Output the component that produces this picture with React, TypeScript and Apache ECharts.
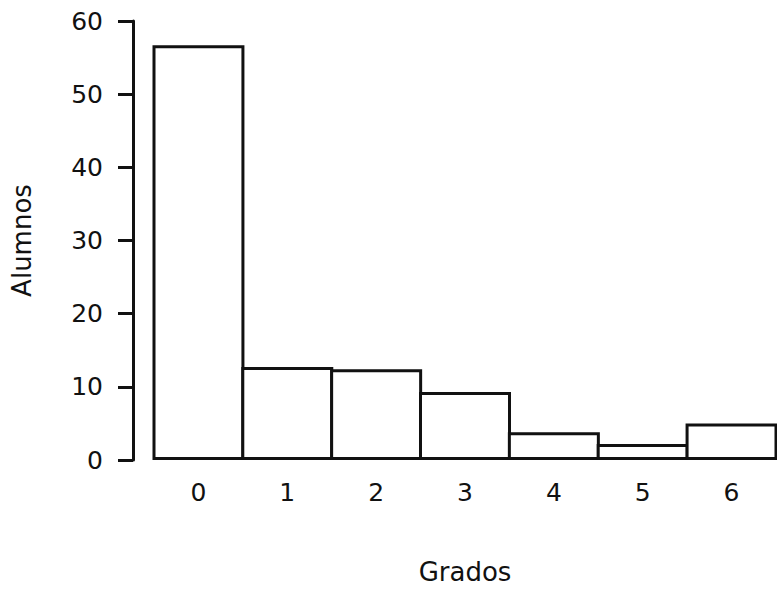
import React, { useEffect, useRef } from "react";
import * as echarts from "echarts";

const categories = ["0", "1", "2", "3", "4", "5", "6"];
const alumnos = [56.7, 12.7, 12.4, 9.3, 3.8, 2.2, 5.0];
const yTicks = { min: 0, max: 60, interval: 10 };

const FONT = "DejaVu Sans";

export default function App() {
  const ref = useRef<HTMLDivElement>(null);
  useEffect(() => {
    if (!ref.current) return;
    const chart = echarts.init(ref.current, undefined, { renderer: "svg" });
    chart.setOption({
      animation: false,
      backgroundColor: "#ffffff",
      grid: { left: 154, right: 1, top: 21, bottom: 124 },
      xAxis: {
        type: "category",
        data: categories,
        boundaryGap: true,
        name: "Grados",
        nameLocation: "middle",
        nameGap: 99,
        nameTextStyle: { fontFamily: FONT, fontSize: 26, color: "#111" },
        axisLine: { show: false },
        axisTick: { show: false },
        axisLabel: { fontFamily: FONT, fontSize: 25, color: "#111", margin: 20 },
        splitLine: { show: false },
      },
      yAxis: {
        type: "value",
        min: yTicks.min,
        max: yTicks.max,
        interval: yTicks.interval,
        offset: 21,
        name: "Alumnos",
        nameLocation: "middle",
        nameRotate: 90,
        nameGap: 98,
        nameTextStyle: { fontFamily: FONT, fontSize: 26, color: "#111" },
        axisLine: { show: true, lineStyle: { color: "#111", width: 3 } },
        axisTick: { show: true, inside: false, length: 15, lineStyle: { color: "#111", width: 3 } },
        axisLabel: { fontFamily: FONT, fontSize: 25, color: "#111", margin: 30 },
        splitLine: { show: false },
      },
      series: [
        {
          type: "bar",
          data: alumnos,
          barWidth: 92,
          barGap: "0%",
          itemStyle: { color: "#ffffff", borderColor: "#111", borderWidth: 3 },
        },
      ],
    });
    return () => chart.dispose();
  }, []);
  return (
    <div
      ref={ref}
      style={{ position: "fixed", left: 0, top: 0, width: 777, height: 590, background: "#fff" }}
    />
  );
}
